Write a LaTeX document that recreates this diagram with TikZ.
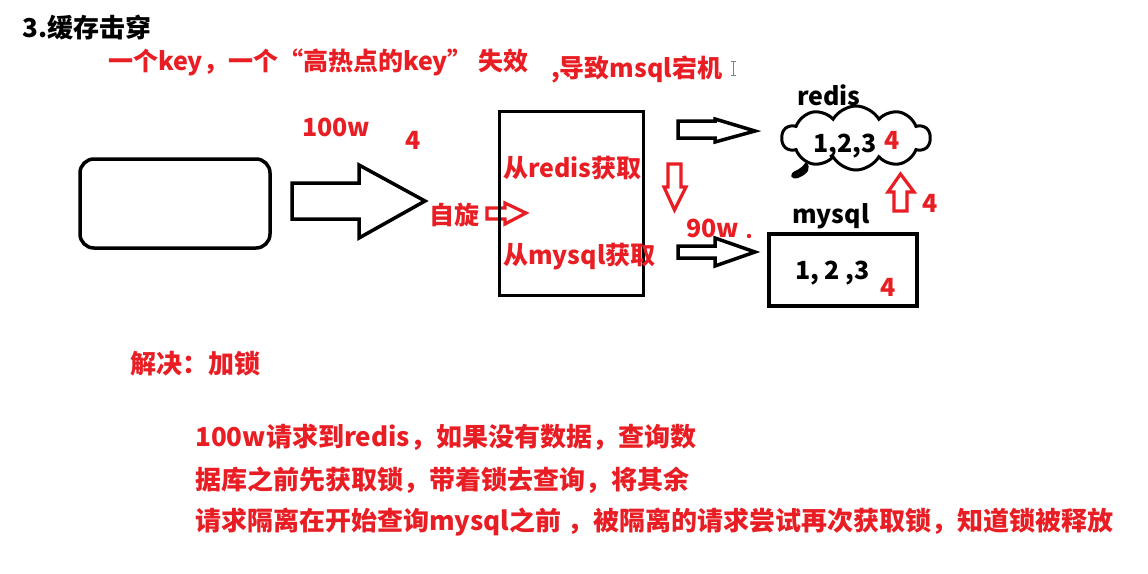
\documentclass[tikz,border=0pt]{standalone}
\usepackage{fontspec}
\newfontfamily\cjk{Noto Sans CJK SC}
\usetikzlibrary{shapes.symbols}
\definecolor{rd}{RGB}{232,30,36}
\tikzset{
  lbl/.style={font=\cjk\bfseries\fontsize{25}{30}\selectfont, inner sep=0pt, anchor=west, text=black},
  rlbl/.style={lbl, text=rd},
  big/.style={font=\cjk\bfseries\fontsize{26}{30}\selectfont},
  box/.style={draw=black, line width=3.5pt, inner sep=0pt},
  barrow/.style={draw=black, line width=3.5pt, line join=miter},
  rarrow/.style={draw=rd, line width=3.2pt, line join=miter},
}
\begin{document}
\begin{tikzpicture}[x=1pt,y=-1pt]
\useasboundingbox[fill=white] (0,0) rectangle (1148,573);
% titles
\node[lbl, big] (title) at (22,28) {3.缓存击穿};
\node[rlbl] (line1) at (108,62) {一个key，一个“高热点的key” 失效};
\node[rlbl] (line2) at (551,70) {,导致msql宕机};
\draw[gray, line width=0.7pt] (731,61)--(736,61) (733.5,61)--(733.5,75) (731,75)--(736,75);
% client box
\node[box, rounded corners=14pt, minimum width=190, minimum height=89] (client) at (175,203.5) {};
% big arrow
\draw[barrow] (292,183)--(359,183)--(359,165)--(425,201)--(359,238)--(359,219)--(292,219)--cycle;
\node[rlbl] (n100w) at (302,127) {100w};
\node[rlbl] (four1) at (405,140) {4};
\node[rlbl] (spin) at (429,215) {自旋};
\draw[rarrow] (487,208)--(505,208)--(505,203)--(526,213)--(505,224)--(505,219)--(487,219)--cycle;
% service box
\node[box, minimum width=144, minimum height=184] (svc) at (571.5,203.5) {};
\node[rlbl] (fromredis) at (503,168) {从redis获取};
\node[rlbl] (frommysql) at (503,257) {从mysql获取};
% right arrows
\draw[barrow] (678,121)--(715,121)--(715,119)--(755,131)--(715,142)--(715,138)--(678,138)--cycle;
\draw[barrow] (678,246)--(715,246)--(715,238)--(755,252)--(715,266)--(715,258)--(678,258)--cycle;
\draw[rarrow] (668,164)--(681,164)--(681,187)--(686,187)--(674.5,210)--(664,187)--(668,187)--cycle;
\node[rlbl] (n90w) at (686,228) {90w};
\fill[rd] (749,236) circle (2.2);
% redis cloud
\node[lbl] (redislbl) at (797,95) {redis};
\node[cloud, draw=black, line width=3pt, cloud puffs=10, cloud puff arc=120, aspect=2.4, minimum width=148, minimum height=64, inner sep=0pt] (cloud) at (856,138) {};
\fill (806,162) .. controls (812,168) and (808,174) .. (798,178) .. controls (790,180) and (789,174) .. (795,171) .. controls (800,169) and (803,166) .. (806,162) -- cycle;
\node[lbl] (c123) at (813,146) {1,2,3};
\node[rlbl] (four2) at (884,140) {4};
% up arrow
\draw[rarrow] (894,211)--(907,211)--(907,192)--(914,192)--(900.5,174)--(888,192)--(894,192)--cycle;
\node[rlbl] (four3) at (922,203) {4};
% mysql box
\node[lbl] (mysqllbl) at (792,216) {mysql};
\node[box, minimum width=148, minimum height=72] (mysql) at (843,270) {};
\node[lbl] (m123) at (795,273) {1, 2 ,3};
\node[rlbl] (four4) at (880,287) {4};
% solution
\node[rlbl, big] (sol) at (130,364) {解决：加锁};
\node[rlbl, big] (p1) at (195,437) {100w请求到redis，如果没有数据，查询数};
\node[rlbl, big] (p2) at (195,480) {据库之前先获取锁，带着锁去查询，将其余};
\node[rlbl, big] (p3) at (195,522) {请求隔离在开始查询mysql之前 ，被隔离的请求尝试再次获取锁，知道锁被释放};
\end{tikzpicture}
\end{document}
